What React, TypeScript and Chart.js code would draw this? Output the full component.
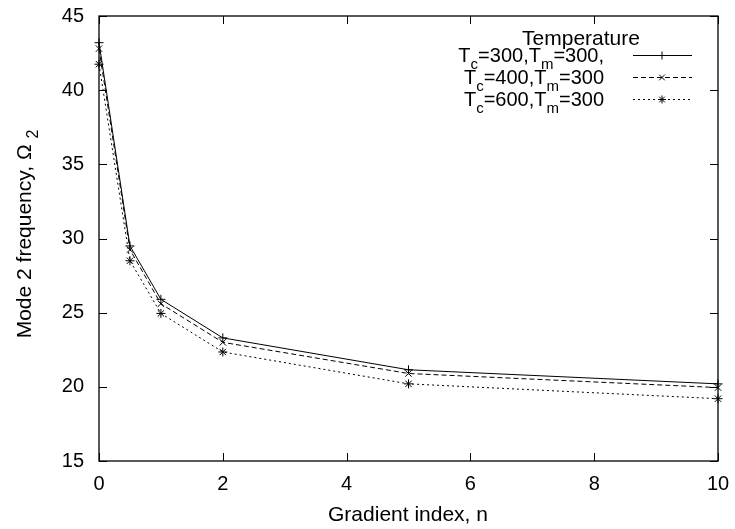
import React, { useEffect, useRef } from "react";
import { Chart, registerables } from "chart.js";

Chart.register(...registerables);

const gradientIndex = [0, 0.5, 1, 2, 5, 10];
const tc300 = [43.2, 29.5, 25.9, 23.3, 21.15, 20.2];
const tc400 = [42.8, 29.25, 25.6, 23.0, 20.9, 19.95];
const tc600 = [41.75, 28.5, 24.95, 22.35, 20.2, 19.2];
const xTicks = [0, 2, 4, 6, 8, 10];
const yTicks = [15, 20, 25, 30, 35, 40, 45];
const legendTitle = "Temperature";
const seriesLabels = [
  [["T", ""], ["c", "sub"], ["=300,T", ""], ["m", "sub"], ["=300,", ""]],
  [["T", ""], ["c", "sub"], ["=400,T", ""], ["m", "sub"], ["=300", ""]],
  [["T", ""], ["c", "sub"], ["=600,T", ""], ["m", "sub"], ["=300", ""]],
];
const xTitle = "Gradient index, n";
const yTitleMain = "Mode 2 frequency, Ω";
const yTitleSub = "2";

const FONT = "'Liberation Sans', Arial, Helvetica, sans-serif";
const MAIN = `21px ${FONT}`;
const SUB = `16px ${FONT}`;
const LEG = `20px ${FONT}`;
const LEGSUB = `15px ${FONT}`;
const styles = [
  { dash: [] as number[], point: "cross" },
  { dash: [5, 3], point: "crossRot" },
  { dash: [2, 3], point: "star" },
];

function drawMarker(ctx: CanvasRenderingContext2D, type: string, x: number, y: number, r: number) {
  ctx.save();
  ctx.setLineDash([]);
  ctx.strokeStyle = "#000";
  ctx.lineWidth = 1;
  ctx.beginPath();
  const d = r * 0.7071;
  if (type === "cross" || type === "star") {
    ctx.moveTo(x - r, y); ctx.lineTo(x + r, y);
    ctx.moveTo(x, y - r); ctx.lineTo(x, y + r);
  }
  if (type === "crossRot" || type === "star") {
    ctx.moveTo(x - d, y - d); ctx.lineTo(x + d, y + d);
    ctx.moveTo(x - d, y + d); ctx.lineTo(x + d, y - d);
  }
  ctx.stroke();
  ctx.restore();
}

const framePlugin = {
  id: "frame",
  afterDraw(chart: any) {
    const { ctx, chartArea: a, scales } = chart;
    ctx.save();
    ctx.strokeStyle = "#000";
    ctx.lineWidth = 1.3;
    ctx.setLineDash([]);
    ctx.strokeRect(a.left, a.top, a.right - a.left, a.bottom - a.top);
    const tl = 8;
    ctx.lineWidth = 1;
    ctx.beginPath();
    xTicks.forEach((v) => {
      const x = Math.round(scales.x.getPixelForValue(v)) + 0.5;
      ctx.moveTo(x, a.bottom); ctx.lineTo(x, a.bottom - tl);
      ctx.moveTo(x, a.top); ctx.lineTo(x, a.top + tl);
    });
    yTicks.forEach((v) => {
      const y = Math.round(scales.y.getPixelForValue(v)) + 0.5;
      ctx.moveTo(a.left, y); ctx.lineTo(a.left + tl, y);
      ctx.moveTo(a.right, y); ctx.lineTo(a.right - tl, y);
    });
    ctx.stroke();

    // axis titles
    ctx.fillStyle = "#000";
    ctx.font = MAIN;
    ctx.textAlign = "center";
    ctx.textBaseline = "alphabetic";
    ctx.fillText(xTitle, 408, 521);

    ctx.save();
    ctx.translate(31, 234);
    ctx.rotate(-Math.PI / 2);
    ctx.font = MAIN;
    const wMain = ctx.measureText(yTitleMain + " ").width;
    ctx.font = SUB;
    const wSub = ctx.measureText(yTitleSub).width;
    const start = -(wMain + wSub) / 2;
    ctx.textAlign = "left";
    ctx.font = MAIN;
    ctx.fillText(yTitleMain, start, 0);
    ctx.font = SUB;
    ctx.fillText(yTitleSub, start + wMain, 7);
    ctx.restore();

    // legend
    ctx.font = MAIN;
    ctx.textAlign = "center";
    ctx.fillText(legendTitle, 581, 45);
    const rowsY = [55, 77, 99];
    const textRight = 604;
    seriesLabels.forEach((parts, i) => {
      const y = rowsY[i];
      const base = y + 7;
      let total = 0;
      parts.forEach(([t, k]) => {
        ctx.font = k === "sub" ? LEGSUB : LEG;
        total += ctx.measureText(t).width;
      });
      let x = textRight - total;
      ctx.textAlign = "left";
      parts.forEach(([t, k]) => {
        ctx.font = k === "sub" ? LEGSUB : LEG;
        ctx.fillText(t, x, k === "sub" ? base + 7 : base);
        x += ctx.measureText(t).width;
      });
      ctx.beginPath();
      ctx.setLineDash(styles[i].dash);
      ctx.lineWidth = 1;
      ctx.moveTo(633, y + 0.5);
      ctx.lineTo(692, y + 0.5);
      ctx.stroke();
      drawMarker(ctx, styles[i].point, 662, y + 0.5, 4);
    });
    ctx.restore();
  },
};

const markerPlugin = {
  id: "markers",
  afterDatasetsDraw(chart: any) {
    const { ctx, scales } = chart;
    chart.data.datasets.forEach((ds: any, i: number) => {
      ds.data.forEach((p: any) => {
        drawMarker(ctx, styles[i].point, scales.x.getPixelForValue(p.x), scales.y.getPixelForValue(p.y), 4.5);
      });
    });
  },
};

export default function App() {
  const ref = useRef<HTMLCanvasElement>(null);
  useEffect(() => {
    const series = [tc300, tc400, tc600];
    const chart = new Chart(ref.current as HTMLCanvasElement, {
      type: "line",
      data: {
        datasets: series.map((vals, i) => ({
          label: seriesLabels[i].map((p) => p[0]).join(""),
          data: gradientIndex.map((n, j) => ({ x: n, y: vals[j] })),
          borderColor: "#000",
          borderWidth: 1,
          borderDash: styles[i].dash,
          pointRadius: 0,
          tension: 0,
          fill: false,
          clip: false as any,
        })),
      },
      options: {
        animation: false,
        responsive: false,
        maintainAspectRatio: false,
        layout: { padding: { top: 16, right: 17, left: 0, bottom: 0 } },
        plugins: { legend: { display: false }, tooltip: { enabled: false } },
        scales: {
          x: {
            type: "linear",
            min: 0,
            max: 10,
            grid: { display: false, drawTicks: false },
            border: { display: false },
            ticks: { stepSize: 2, color: "#000", padding: 11, font: { family: FONT, size: 20 } },
            afterFit: (s: any) => { s.height = 68; s.paddingLeft = 0; s.paddingRight = 0; },
          },
          y: {
            min: 15,
            max: 45,
            grid: { display: false, drawTicks: false },
            border: { display: false },
            ticks: { stepSize: 5, color: "#000", padding: 15, font: { family: FONT, size: 20 } },
            afterFit: (s: any) => { s.width = 99; s.paddingTop = 0; s.paddingBottom = 0; },
          },
        },
      },
      plugins: [markerPlugin, framePlugin],
    });
    return () => chart.destroy();
  }, []);
  return (
    <div style={{ position: "fixed", left: 0, top: 0, width: 735, height: 529, background: "#fff" }}>
      <canvas ref={ref} width={735} height={529} style={{ width: 735, height: 529, display: "block" }} />
    </div>
  );
}
